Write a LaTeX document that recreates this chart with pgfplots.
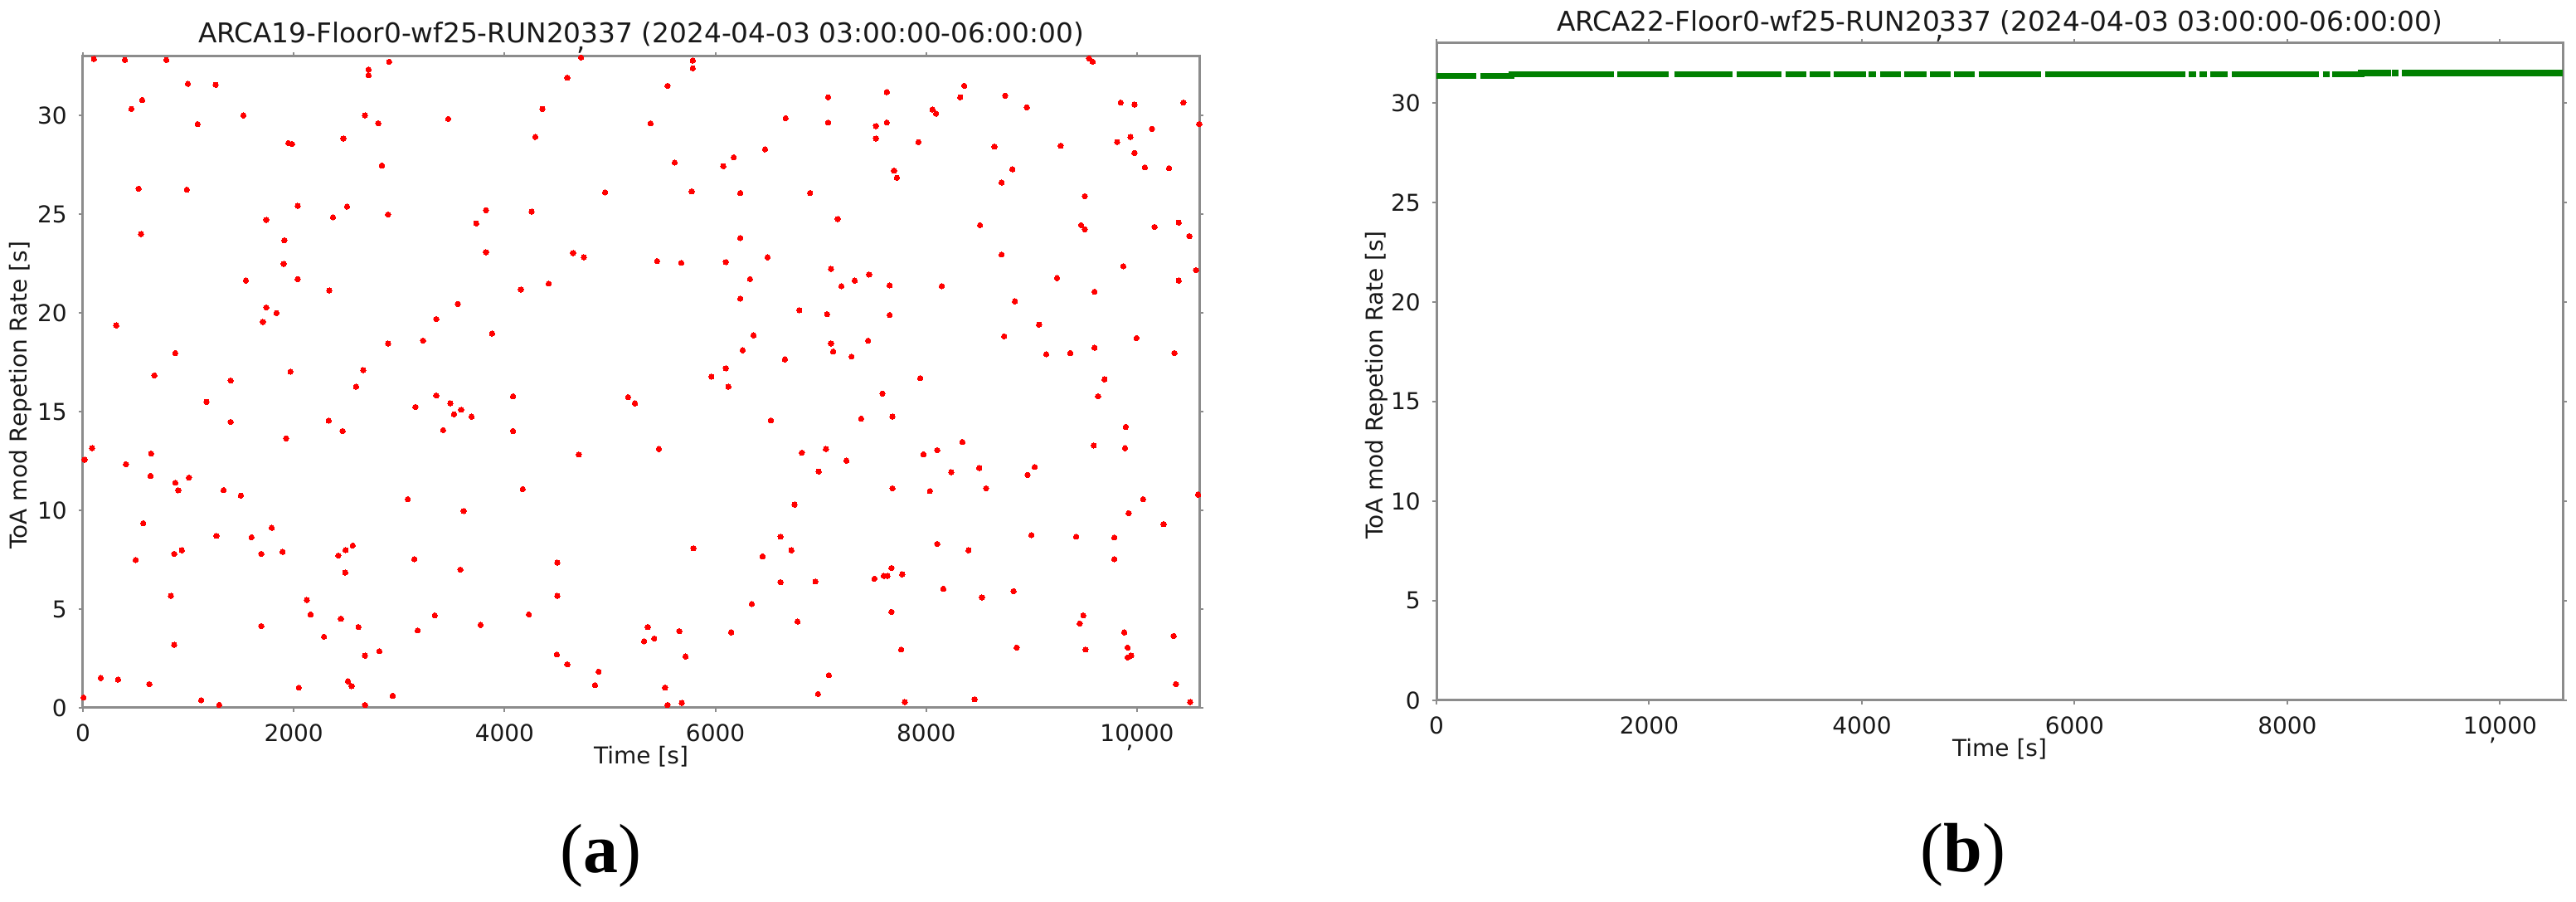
\documentclass[border=0pt]{standalone}
\usepackage{fontspec}
\setmainfont{DejaVu Sans}
\newfontfamily\capfont{Liberation Serif}
\usepackage{pgfplots}
\usepackage{pgfplotstable}
\pgfplotsset{compat=1.18}
\pgfplotstableread{
x y
104 32.87
398 32.82
791 32.82
996 31.61
1259 31.56
562 30.79
460 30.34
1522 30.01
1088 29.57
2710 32.34
2710 32.05
2905 32.73
2676 30.01
2802 29.61
1949 28.61
1983 28.56
2471 28.84
2836 27.47
3465 29.83
4595 31.92
4725 32.94
4359 30.34
4291 28.92
4954 26.11
528 26.30
986 26.25
552 24.00
1740 24.72
2037 25.43
2372 24.85
2505 25.39
2894 24.99
1911 23.68
1904 22.49
2037 21.72
1546 21.64
2338 21.14
3823 25.21
3731 24.54
4257 25.13
3823 23.08
4650 23.04
4752 22.82
4155 21.19
4418 21.49
3557 20.46
3352 19.69
3881 18.96
3226 18.60
2894 18.45
316 19.37
1740 20.28
1836 20.00
1706 19.55
876 17.97
678 16.84
1969 17.03
2659 17.10
1402 16.58
5785 32.79
5785 32.40
5546 31.51
5385 29.61
7069 30.93
7626 31.19
7069 29.65
6666 29.87
7523 29.47
7626 29.65
7523 28.84
8059 30.31
8093 30.10
7926 28.66
8360 31.51
8322 30.93
8749 31.01
8954 30.42
8647 28.43
9275 28.47
9545 32.90
9579 32.73
9845 30.66
9975 30.56
10440 30.66
10142 29.33
10590 29.57
9811 28.66
9937 28.92
9975 28.11
10074 27.38
10303 27.34
5614 27.62
6075 27.44
6174 27.89
6471 28.29
5775 26.16
6236 26.08
6898 26.08
7694 27.21
7721 26.85
8817 27.28
8715 26.61
9504 25.92
7161 24.76
8510 24.45
9469 24.45
9504 24.24
10166 24.36
10395 24.58
10497 23.89
6236 23.80
5447 22.63
5676 22.54
6099 22.58
6495 22.82
8715 22.96
9869 22.37
10559 22.17
7096 22.23
7458 21.95
7322 21.64
7195 21.36
7653 21.40
8148 21.36
6328 21.72
9241 21.77
10395 21.64
9596 21.08
6236 20.73
8841 20.59
6796 20.14
7059 19.94
7653 19.90
9070 19.41
6362 18.87
8739 18.82
9995 18.73
7448 18.60
7096 18.46
6259 18.11
7117 18.05
7291 17.79
6659 17.65
9138 17.91
9367 17.97
9596 18.24
10354 17.97
6099 17.20
5962 16.78
7943 16.70
9691 16.64
2591 16.27
1173 15.50
1402 14.48
3352 15.82
3485 15.42
3154 15.24
3588 15.10
3520 14.87
3687 14.75
4080 15.78
4080 14.02
3417 14.07
2331 14.55
2464 14.02
1928 13.65
5172 15.74
5237 15.42
4704 12.83
87 13.15
16 12.57
647 12.88
408 12.34
641 11.75
876 11.40
904 11.02
1006 11.66
1334 11.03
1498 10.75
3082 10.57
4172 11.08
3612 9.97
572 9.35
1266 8.71
1600 8.64
1791 9.12
866 7.80
938 7.98
501 7.49
1692 7.80
1894 7.90
2423 7.71
2492 7.99
2560 8.22
2488 6.85
3144 7.53
3581 7.00
4500 7.35
835 5.67
4500 5.67
2123 5.46
2160 4.73
3338 4.68
4230 4.73
1692 4.14
2447 4.51
2614 4.09
3175 3.92
3772 4.20
2287 3.60
866 3.19
2676 2.64
2812 2.87
4496 2.70
4595 2.20
4892 1.83
4858 1.15
169 1.51
333 1.43
630 1.20
2048 1.02
2515 1.34
2549 1.10
2939 0.61
1122 0.38
1293 0.15
2676 0.14
5 0.52
6123 16.27
7585 15.92
6526 14.56
7383 14.65
7680 14.75
9630 15.78
9893 14.23
9589 13.29
9886 13.15
5464 13.11
6820 12.92
7048 13.11
7243 12.52
6980 11.97
7974 12.84
8104 13.05
8343 13.47
8237 11.93
8503 12.15
8568 11.12
7680 11.12
8035 10.98
8961 11.80
9029 12.20
6751 10.29
10057 10.57
9920 9.86
10579 10.80
10252 9.30
8998 8.75
9422 8.67
9784 8.63
9784 7.53
8104 8.30
8401 7.98
6618 8.67
6721 7.98
6447 7.67
5792 8.08
6618 6.36
6949 6.40
7509 6.54
7598 6.68
7632 6.68
7670 7.08
7772 6.76
8162 6.03
8527 5.59
8828 5.91
6345 5.26
7670 4.86
6779 4.37
5358 4.09
5324 3.37
5419 3.51
5658 3.88
6150 3.82
5717 2.60
9490 4.68
9456 4.27
9879 3.82
10347 3.64
7762 2.95
8858 3.05
9511 2.95
9910 3.05
9910 2.55
9944 2.64
7076 1.65
10368 1.20
5522 1.02
6973 0.70
5546 0.14
5682 0.25
7796 0.29
8459 0.43
10504 0.29
}\dataA
\pgfplotstableread{
x y
0 31.35
377 31.35
nan nan
412 31.35
705 31.35
705 31.42
1665 31.42
nan nan
1700 31.42
2187 31.42
nan nan
2236 31.42
2786 31.42
nan nan
2820 31.42
3245 31.42
nan nan
3280 31.42
3475 31.42
nan nan
3509 31.42
3704 31.42
nan nan
3739 31.42
4038 31.42
nan nan
4066 31.42
4136 31.42
nan nan
4170 31.42
4365 31.42
nan nan
4400 31.42
4609 31.42
nan nan
4637 31.42
4832 31.42
nan nan
4867 31.42
5062 31.42
nan nan
5096 31.42
5688 31.42
nan nan
5723 31.42
7038 31.42
nan nan
7073 31.42
7143 31.42
nan nan
7177 31.42
7247 31.42
nan nan
7275 31.42
7442 31.42
nan nan
7477 31.42
8298 31.42
nan nan
8333 31.42
8395 31.42
nan nan
8423 31.42
8695 31.42
8695 31.50
8973 31.50
nan nan
8987 31.50
9043 31.50
nan nan
9077 31.50
10590 31.50
}\dataB
\begin{document}
\begin{tikzpicture}
\useasboundingbox (0,0) rectangle (776.5pt,271.75pt);
\pgfplotsset{
  myaxis/.style={
    scale only axis, anchor=south west,
    xmin=0, xmax=10590, ymin=0, ymax=33,
    scaled x ticks=false, scaled y ticks=false,
    xtick={0,2000,4000,6000,8000,10000},
    xticklabels={0,2000,4000,6000,8000,{10\makebox[0pt]{\raisebox{-2.2pt}{,}}000}},
    ytick={0,5,10,15,20,25,30},
    tick align=outside, major tick length=1.3pt,
    tick style={draw=black!45, line width=0.5pt},
    axis line style={draw=black!45, line width=0.75pt},
    ticklabel style={font=\fontsize{7}{8}\selectfont, text=black!90},
    /pgf/number format/assume math mode=true,
    label style={font=\fontsize{7}{8}\selectfont, text=black!90},
    xlabel={Time [s]},
    ylabel={ToA mod Repetion Rate [s]},
    xlabel style={at={(axis description cs:0.5,0)}, anchor=center, yshift=-14.75pt},
  }
}
\begin{axis}[myaxis,
  at={(25pt,58.5pt)}, width=336.5pt, height=196.25pt,
  ylabel style={at={(axis description cs:-0.0557,0.48)}, anchor=center},
  after end axis/.code={
    \node[anchor=base, font=\fontsize{8.2}{9}\selectfont, text=black!90, inner sep=0pt]
      at ([yshift=4pt]rel axis cs:0.5,1)
      {ARCA19-Floor0-wf25-RUN20\makebox[0pt]{\raisebox{-2.2pt}{,}}337 (2024-04-03 03:00:00-06:00:00)};
  },
]
\addplot[only marks, color=red, mark=*, mark size=0.8pt, mark options={draw=red, fill=red, line width=0pt}] table[x=x, y=y] {\dataA};
\end{axis}
\begin{axis}[myaxis,
  at={(433pt,60.75pt)}, width=339.5pt, height=198pt,
  ylabel style={at={(axis description cs:-0.053,0.48)}, anchor=center},
  unbounded coords=jump,
  after end axis/.code={
    \node[anchor=base, font=\fontsize{8.2}{9}\selectfont, text=black!90, inner sep=0pt]
      at ([yshift=3.5pt]rel axis cs:0.5,1)
      {ARCA22-Floor0-wf25-RUN20\makebox[0pt]{\raisebox{-2.2pt}{,}}337 (2024-04-03 03:00:00-06:00:00)};
  },
]
\addplot[color=green!50!black, line width=1.8pt, line cap=butt] table[x=x, y=y] {\dataB};
\end{axis}
\node[font=\capfont\fontsize{21}{24}\selectfont] at (181pt,14pt) {(\textbf{a})};
\node[font=\capfont\fontsize{21}{24}\selectfont] at (591.75pt,14.25pt) {(\textbf{b})};
\end{tikzpicture}
\end{document}
